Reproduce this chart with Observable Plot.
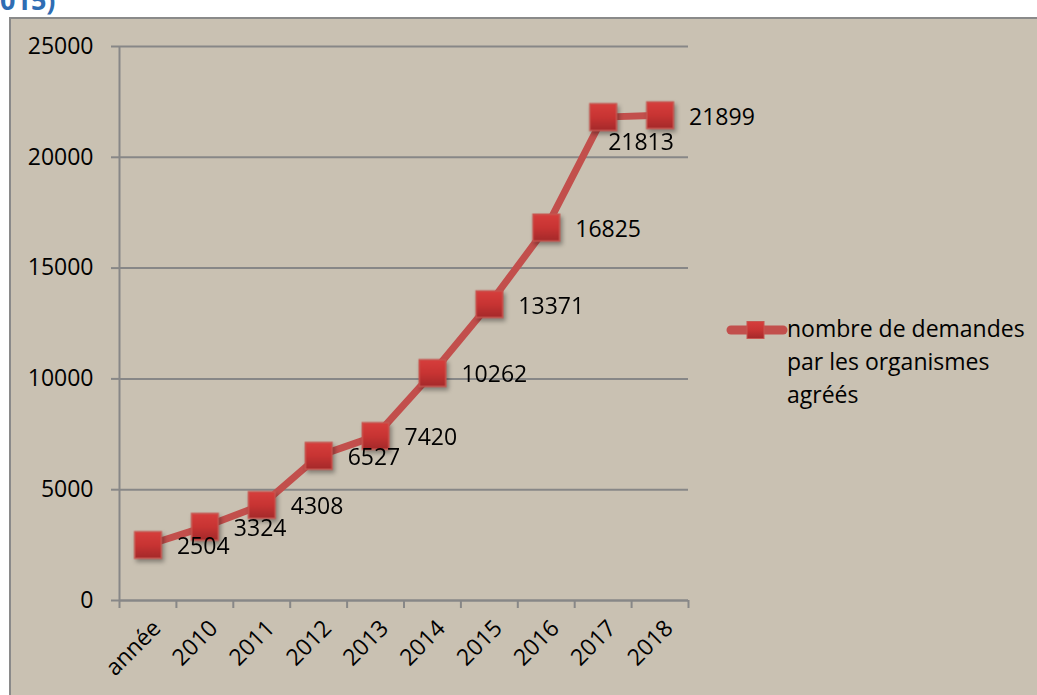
<!DOCTYPE html>
<html>
<head>
<meta charset="utf-8">
<script src="https://cdn.jsdelivr.net/npm/d3@7"></script>
<script src="https://cdn.jsdelivr.net/npm/@observablehq/plot@0.6"></script>
<style>
  html, body { margin: 0; padding: 0; background: #ffffff; width: 1037px; height: 695px; overflow: hidden; }
  #frame { position: absolute; left: 9px; top: 17px; width: 1100px; height: 800px; background: #C9C1B2; border-left: 2px solid #8a8a8a; border-top: 2px solid #8a8a8a; box-sizing: border-box; }
  #heading { position: absolute; left: 0; top: -14px; font: bold 27px "Open Sans", sans-serif; color: #2F6DB3; line-height: 27px; }
  #chart { position: absolute; left: 0; top: 0; }
  #legend { position: absolute; left: 726px; top: 312px; font: 23px "Open Sans", sans-serif; color: #000; line-height: 33px; }
  #legend svg { position: absolute; left: 0; top: 7px; }
  #legend .txt { margin-left: 61px; white-space: nowrap; }
</style>
</head>
<body>
<div id="heading">015)</div>
<div id="frame"></div>
<div id="chart"></div>
<div id="legend">
  <svg width="62" height="22">
    <line x1="5" y1="11" x2="57" y2="11" stroke="#C24F4C" stroke-width="9" stroke-linecap="round"/>
    <rect x="21" y="2.5" width="17" height="17" fill="url(#mgrad)" stroke="#C85650" stroke-width="1"/>
  </svg>
  <div class="txt">nombre de demandes<br>par les organismes<br>agréés</div>
</div>
<script>
const categories = ["année", "2010", "2011", "2012", "2013", "2014", "2015", "2016", "2017", "2018"];
const values = [2504, 3324, 4308, 6527, 7420, 10262, 13371, 16825, 21813, 21899];
const yTicks = [0, 5000, 10000, 15000, 20000, 25000];
const seriesName = "nombre de demandes par les organismes agréés";

const data = categories.map((c, i) => ({cat: c, idx: i + 0.5, value: values[i]}));
const boundaries = d3.range(categories.length + 1);
const font = '"Open Sans", sans-serif';

const chart = Plot.plot({
  width: 1037,
  height: 695,
  marginLeft: 119,
  marginRight: 349,
  marginTop: 46,
  marginBottom: 95,
  style: {background: "transparent", fontFamily: font, fontSize: "23px", color: "#000"},
  x: {type: "linear", domain: [0, categories.length]},
  y: {domain: [0, 25000]},
  marks: [
    Plot.gridY(yTicks, {stroke: "#878787", strokeOpacity: 1, strokeWidth: 2}),
    Plot.ruleX([0], {stroke: "#878787", strokeWidth: 2}),
    Plot.ruleY([0], {stroke: "#878787", strokeWidth: 2}),
    Plot.axisY({ticks: yTicks, tickSize: 8, tickPadding: 18, tickFormat: d => String(d), stroke: "#878787", strokeWidth: 2, fill: "#000", fontSize: 23, label: null}),
    Plot.axisX({ticks: boundaries, tickSize: 8, tickFormat: () => "", stroke: "#878787", strokeWidth: 2, label: null}),
    Plot.axisX({ticks: data.map(d => d.idx), tickSize: 0, tickPadding: 24, tickRotate: -45, tickFormat: (v) => categories[Math.round(v - 0.5)], fill: "#000", fontSize: 23, dx: 9, label: null}),
    Plot.line(data, {x: "idx", y: "value", stroke: "#C24F4C", strokeWidth: 7, strokeLinejoin: "round"}),
    Plot.dot(data, {x: "idx", y: "value", symbol: "square", r: 15, fill: "url(#mgrad)", stroke: "#C85650", strokeWidth: 1.5}),
    Plot.text(data.filter(d => d.cat !== "2017"), {x: "idx", y: "value", text: d => String(d.value), textAnchor: "start", dx: 29, dy: 2, fill: "#000", fontSize: 23}),
    Plot.text(data.filter(d => d.cat === "2017"), {x: "idx", y: "value", text: d => String(d.value), textAnchor: "start", dx: 5, dy: 26, fill: "#000", fontSize: 23})
  ]
});

// gradient for markers
const defs = document.createElementNS("http://www.w3.org/2000/svg", "defs");
defs.innerHTML = '<linearGradient id="mgrad" x1="0" y1="0" x2="0" y2="1">' +
  '<stop offset="0" stop-color="#D63E3C"/><stop offset="0.5" stop-color="#C83433"/><stop offset="1" stop-color="#A4292A"/></linearGradient>';
chart.insertBefore(defs, chart.firstChild);
chart.querySelectorAll('g[aria-label="dot"]').forEach(g => {
  g.style.filter = "drop-shadow(2px 3px 2px rgba(0,0,0,0.35))";
});
document.getElementById("chart").appendChild(chart);
</script>
</body>
</html>
